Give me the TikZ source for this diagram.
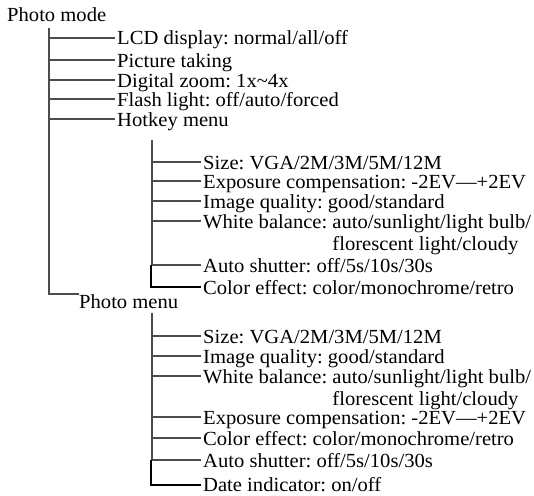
\documentclass[tikz,border=0pt]{standalone}
\usepackage{fontspec}
\setmainfont{Liberation Serif}[FakeStretch=1.03]
\usepackage{tikz}
\usetikzlibrary{positioning, calc}
\frenchspacing

\begin{document}
\begin{tikzpicture}[x=1pt, y=-1pt, font=\fontsize{20}{22}\selectfont,
    txt/.style={anchor=base west, inner xsep=2pt, inner ysep=0pt},
    branch/.style={draw=black!70, line width=1.2pt},
    lastbranch/.style={draw=black, line width=1.5pt}]
  \useasboundingbox (0,0) rectangle (534,495);

  % main menu
  \node[txt, inner xsep=0pt] (mode) at (7,22) {Photo mode};
  \node[txt, inner xsep=0pt] (pmenu) at (79,308) {Photo menu};
  \coordinate (mtop) at (49,28);
  \coordinate (mbot) at (49,294);
  \draw[branch] (mtop) -- (mbot) -- (mbot -| pmenu.west);

  \foreach \y/\name/\txt in {38/lcd/{LCD display: normal/all/off},
      60/take/{Picture taking}, 80/zoom/{Digital zoom: 1x\textasciitilde4x},
      99/flash/{Flash light: off/auto/forced}, 119/hotkey/{Hotkey menu}} {
    \coordinate (k\name) at (49,\y);
    \node[txt] (\name) at (115,\y+7) {\txt};
    \draw[branch] (k\name) -- (k\name -| \name.west);
  }

  % hotkey menu
  \coordinate (htop) at (152,140);
  \coordinate (hbot) at (152,265);
  \draw[branch] (htop) -- (hbot);
  \foreach \y/\name/\txt in {162/hsize/{Size: VGA/2M/3M/5M/12M},
      181/hexpo/{Exposure compensation: -2EV—+2EV},
      201/hqual/{Image quality: good/standard},
      221/hwb/{White balance: auto/sunlight/light bulb/},
      265/hshut/{Auto shutter: off/5s/10s/30s}} {
    \coordinate (k\name) at (152,\y);
    \node[txt] (\name) at (201,\y+7) {\txt};
    \draw[branch] (k\name) -- (k\name -| \name.west);
  }
  \node[txt] (hwb2) at (201,250) {\phantom{White balance: }florescent light/cloudy};
  \node[txt] (hcol) at (201,294) {Color effect: color/monochrome/retro};
  \coordinate (hlast) at (151,287);
  \draw[lastbranch] (hlast |- khshut) -- (hlast) -- (hlast -| hcol.west);

  % photo menu
  \coordinate (ptop) at (152,313);
  \coordinate (pbot) at (152,460);
  \draw[branch] (ptop) -- (pbot);
  \foreach \y/\name/\txt in {336/psize/{Size: VGA/2M/3M/5M/12M},
      356/pqual/{Image quality: good/standard},
      376/pwb/{White balance: auto/sunlight/light bulb/},
      417/pexpo/{Exposure compensation: -2EV—+2EV},
      438/pcol/{Color effect: color/monochrome/retro},
      460/pshut/{Auto shutter: off/5s/10s/30s}} {
    \coordinate (k\name) at (152,\y);
    \node[txt] (\name) at (201,\y+7) {\txt};
    \draw[branch] (k\name) -- (k\name -| \name.west);
  }
  \node[txt] (pwb2) at (201,405) {\phantom{White balance: }florescent light/cloudy};
  \node[txt] (pdate) at (201,491) {Date indicator: on/off};
  \coordinate (plast) at (151,485);
  \draw[lastbranch] (plast |- kpshut) -- (plast) -- (plast -| pdate.west);
\end{tikzpicture}
\end{document}
